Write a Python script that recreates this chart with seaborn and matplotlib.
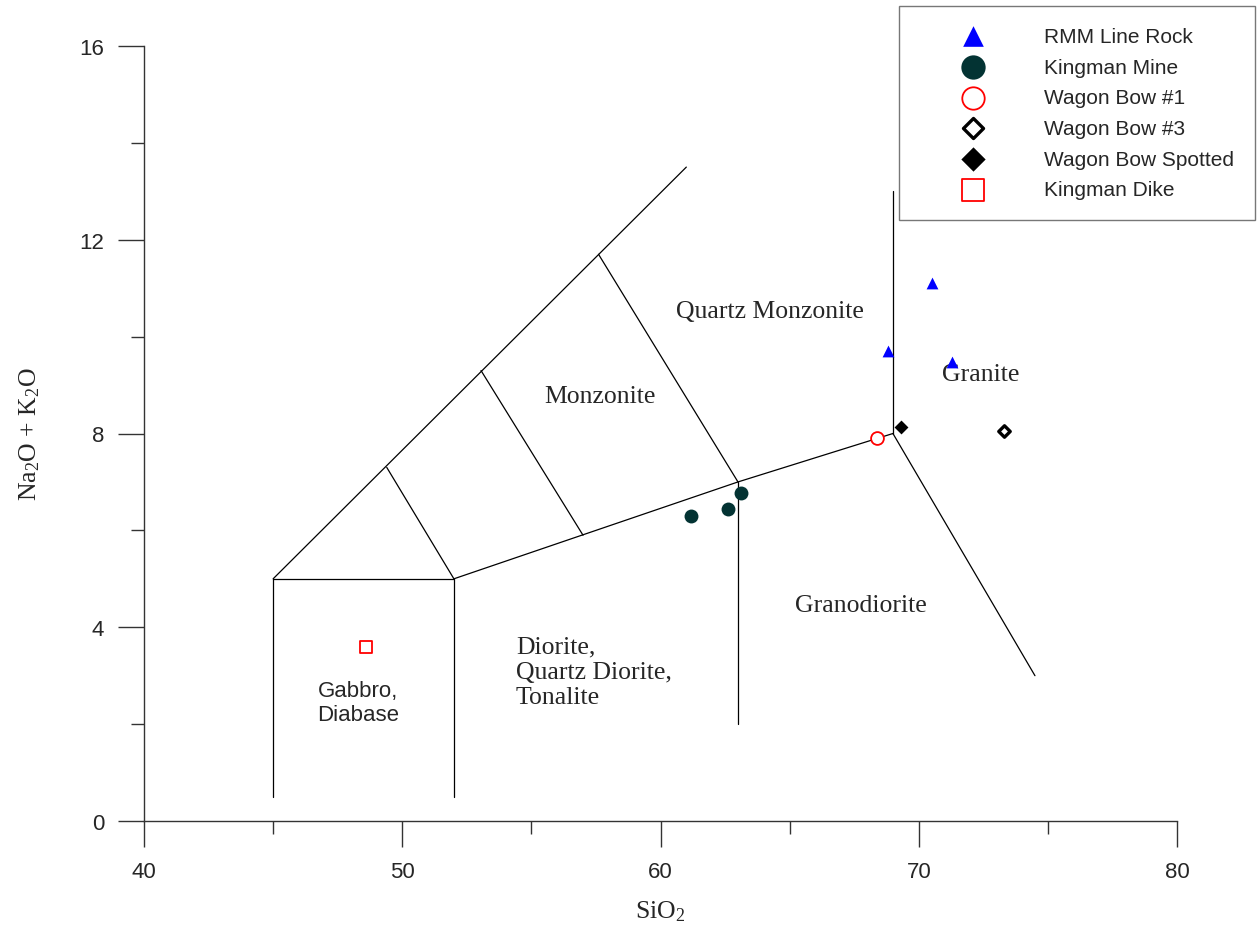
import matplotlib
matplotlib.use("Agg")
import pandas as pd
import seaborn as sns
import matplotlib.pyplot as plt

# Sample data (SiO2 vs total alkali)
rmm_sio2 = [68.8, 70.5, 71.3]
rmm_alk = [9.7, 11.1, 9.48]
mine_sio2 = [61.2, 62.6, 63.1]
mine_alk = [6.3, 6.44, 6.77]
wb1_sio2 = [68.4]
wb1_alk = [7.91]
wb3_sio2 = [73.3]
wb3_alk = [8.05]
wbs_sio2 = [69.3]
wbs_alk = [8.13]
dike_sio2 = [48.6]
dike_alk = [3.59]

# Classification field boundaries, as (x0, y0, x1, y1)
boundaries = [
    (45, 0.5, 45, 5), (52, 0.5, 52, 5), (45, 5, 52, 5),
    (45, 5, 61, 13.5), (52, 5, 63, 7), (63, 7, 69, 8),
    (63, 2, 63, 7), (69, 8, 69, 13), (69, 8, 74.5, 3),
    (57.6, 11.7, 63, 7), (53.05, 9.3, 57, 5.9), (49.4, 7.3, 52, 5),
]

# Field names: (text, x, y, ha, font)
fields = [
    ("Quartz Monzonite", 64.24, 10.53, "center", "serif"),
    ("Monzonite", 57.66, 8.77, "center", "serif"),
    ("Granite", 72.4, 9.23, "center", "serif"),
    ("Granodiorite", 67.76, 4.45, "center", "serif"),
    ("Diorite,\nQuartz Diorite,\nTonalite", 54.4, 3.08, "left", "serif"),
    ("Gabbro,\nDiabase", 48.3, 2.44, "center", "sans"),
]

sns.set_style("white")
plt.rcParams['font.family'] = ['Liberation Sans', 'DejaVu Sans']
plt.rcParams['mathtext.fontset'] = 'custom'
plt.rcParams['mathtext.rm'] = 'Liberation Serif'
plt.rcParams['mathtext.it'] = 'Liberation Serif:italic'

fig = plt.figure(figsize=(12.57, 9.28), dpi=100)
ax = fig.add_axes([144/1257, 106/928, 1033/1257, 775/928])

for x0, y0, x1, y1 in boundaries:
    ax.plot([x0, x1], [y0, y1], color="black", lw=0.9, zorder=1)

for text, x, y, ha, font in fields:
    fam = "Liberation Serif" if font == "serif" else "Liberation Sans"
    size = 18.5 if font == "serif" else 16
    ax.text(x, y, text, ha=ha, va="center", fontsize=size, family=fam,
            linespacing=1.18, zorder=2)

groups = [
    ("RMM Line Rock", rmm_sio2, rmm_alk, "^", "blue", "blue", 0, 72),
    ("Kingman Mine", mine_sio2, mine_alk, "o", "#033333", "#033333", 0, 100),
    ("Wagon Bow #1", wb1_sio2, wb1_alk, "o", "white", "red", 1.3, 85),
    ("Wagon Bow #3", wb3_sio2, wb3_alk, "D", "white", "black", 2.4, 34),
    ("Wagon Bow Spotted", wbs_sio2, wbs_alk, "D", "black", "black", 0, 50),
    ("Kingman Dike", dike_sio2, dike_alk, "s", "white", "red", 1.3, 80),
]

for name, xs, ys, mk, fc, ec, lw, s in groups:
    df = pd.DataFrame({"SiO2": xs, "Alk": ys})
    sns.scatterplot(data=df, x="SiO2", y="Alk", marker=mk, s=s, color=fc,
                    edgecolor=ec, linewidth=lw, label=name, ax=ax, zorder=3)

ax.set_xlim(40, 80)
ax.set_ylim(0, 16)
ax.set_xticks([40, 50, 60, 70, 80])
ax.set_xticks([45, 55, 65, 75], minor=True)
ax.set_yticks([0, 4, 8, 12, 16])
ax.set_yticks([2, 6, 10, 14], minor=True)
for sp in ["top", "right"]:
    ax.spines[sp].set_visible(False)
for sp in ["left", "bottom"]:
    ax.spines[sp].set_color("#333333")
    ax.spines[sp].set_linewidth(1.0)
ax.tick_params(which="major", direction="out", length=18.7, width=1,
               color="#333333", labelsize=16, bottom=True, left=True)
ax.tick_params(which="minor", direction="out", length=9.4, width=1,
               color="#333333", bottom=True, left=True)
ax.tick_params(axis="x", which="major", pad=10)
ax.tick_params(axis="y", which="major", pad=10)

ax.set_xlabel("SiO$_2$", family="Liberation Serif", fontsize=18.5, labelpad=12)
ax.set_ylabel("Na$_2$O + K$_2$O", family="Liberation Serif", fontsize=18.5, labelpad=27)

leg = ax.legend(loc="upper right", bbox_to_anchor=(1255/1257, 1 - 7/928),
                bbox_transform=fig.transFigure, borderaxespad=0,
                fontsize=15, markerscale=1.75, frameon=True, fancybox=False,
                handlelength=5.1, handletextpad=0.87, borderpad=1.0,
                labelspacing=0.56)
leg.get_frame().set_edgecolor("#555555")
leg.get_frame().set_linewidth(1.0)

fig.savefig("out.png", dpi=100)
